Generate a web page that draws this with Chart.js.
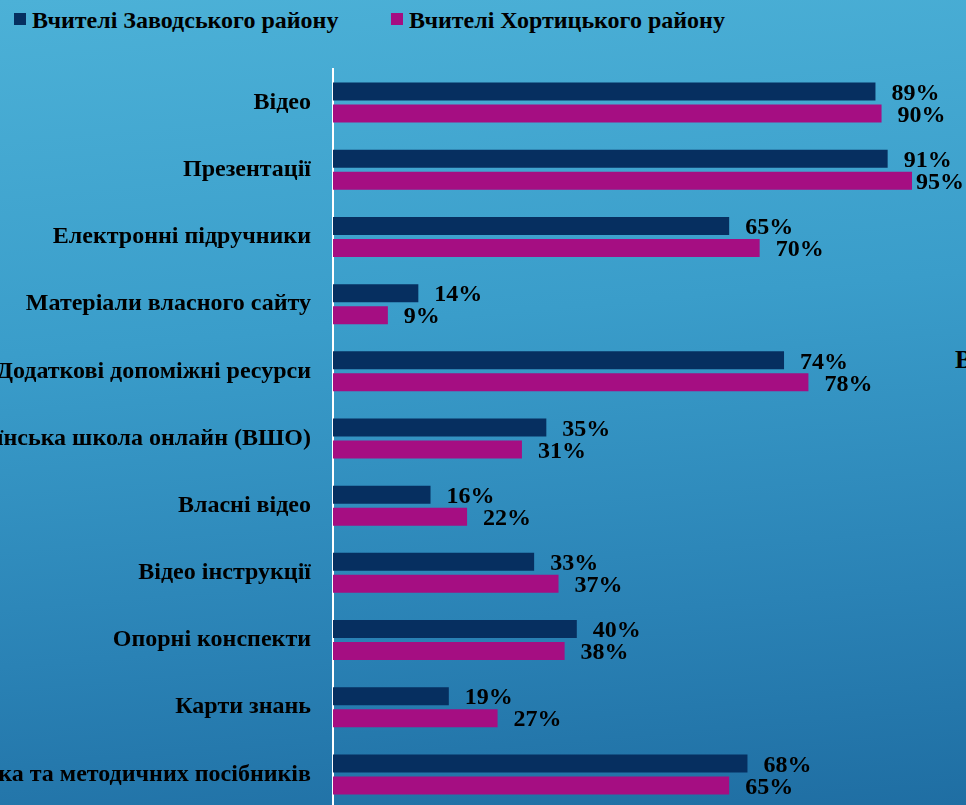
<!DOCTYPE html>
<html>
<head>
<meta charset="utf-8">
<script src="https://cdn.jsdelivr.net/npm/chart.js@4.4.1/dist/chart.umd.min.js"></script>
<style>
    html, body { margin: 0; padding: 0; overflow: hidden; }
    body {
        width: 966px;
        height: 805px;
        position: relative;
        background: linear-gradient(175deg, #4cb1d7 0%, #3a9dca 40%, #2a82b5 75%, #1f6ea3 100%);
        font-family: "Liberation Serif", "Times New Roman", serif;
    }
    #chart { position: absolute; left: 0; top: 0; }
    .legend { position: absolute; top: 6px; font-weight: bold; font-size: 24px; line-height: 28px; color: #000; white-space: nowrap; }
    .legend i { display: inline-block; width: 12px; height: 12px; margin-right: 6px; vertical-align: 3px; }
    .edge { position: absolute; left: 955px; top: 347px; font-weight: bold; font-size: 26px; line-height: 26px; color: #000; }
</style>
</head>
<body>
<div class="legend" style="left:14px"><i style="background:#062f60"></i>Вчителі Заводського району</div>
<div class="legend" style="left:391px"><i style="background:#a50e82"></i>Вчителі Хортицького району</div>
<div class="edge">В</div>
<canvas id="chart" width="966" height="812"></canvas>
<script>
const categories = [
    'Відео',
    'Презентації',
    'Електронні підручники',
    'Матеріали власного сайту',
    'Додаткові допоміжні ресурси',
    'Всеукраїнська школа онлайн (ВШО)',
    'Власні відео',
    'Відео інструкції',
    'Опорні конспекти',
    'Карти знань',
    'Матеріали підручника та методичних посібників'
];
const zavodskyi = [89, 91, 65, 14, 74, 35, 16, 33, 40, 19, 68];
const khortytskyi = [90, 95, 70, 9, 78, 31, 22, 37, 38, 27, 65];

// percent labels to the right of each bar
const valueLabels = {
    id: 'valueLabels',
    afterDatasetsDraw(chart) {
        const ctx = chart.ctx;
        ctx.save();
        ctx.font = 'bold 24px "Liberation Serif"';
        ctx.fillStyle = '#000';
        ctx.textBaseline = 'middle';
        chart.data.datasets.forEach((ds, di) => {
            chart.getDatasetMeta(di).data.forEach((bar, i) => {
                const text = ds.data[i] + '%';
                const w = ctx.measureText(text).width;
                let x = bar.x + 16;
                if (x + w > chart.width - 2) x = chart.width - 2 - w;
                ctx.fillText(text, x, bar.y + 2);
            });
        });
        ctx.restore();
    }
};

new Chart(document.getElementById('chart'), {
    type: 'bar',
    data: {
        labels: categories,
        datasets: [
            { label: 'Вчителі Заводського району', data: zavodskyi, backgroundColor: '#062f60' },
            { label: 'Вчителі Хортицького району', data: khortytskyi, backgroundColor: '#a50e82' }
        ]
    },
    options: {
        indexAxis: 'y',
        responsive: false,
        animation: false,
        categoryPercentage: 0.655,
        barPercentage: 0.818,
        layout: { padding: { top: 69, right: 23.5, bottom: 4, left: 0 } },
        plugins: { legend: { display: false }, tooltip: { enabled: false } },
        scales: {
            x: { display: false, min: 0, max: 100 },
            y: {
                afterFit: (scale) => {
                    scale.width = 333;
                    // labels sit in the bands, no extra room needed above/below
                    scale.paddingTop = 0;
                    scale.paddingBottom = 0;
                },
                grid: { drawOnChartArea: false, drawTicks: false },
                border: { display: true, color: '#ffffff', width: 2 },
                ticks: {
                    padding: 22,
                    color: '#000',
                    font: { family: '"Liberation Serif"', size: 24, weight: 'bold' }
                }
            }
        }
    },
    plugins: [valueLabels]
});
</script>
</body>
</html>
